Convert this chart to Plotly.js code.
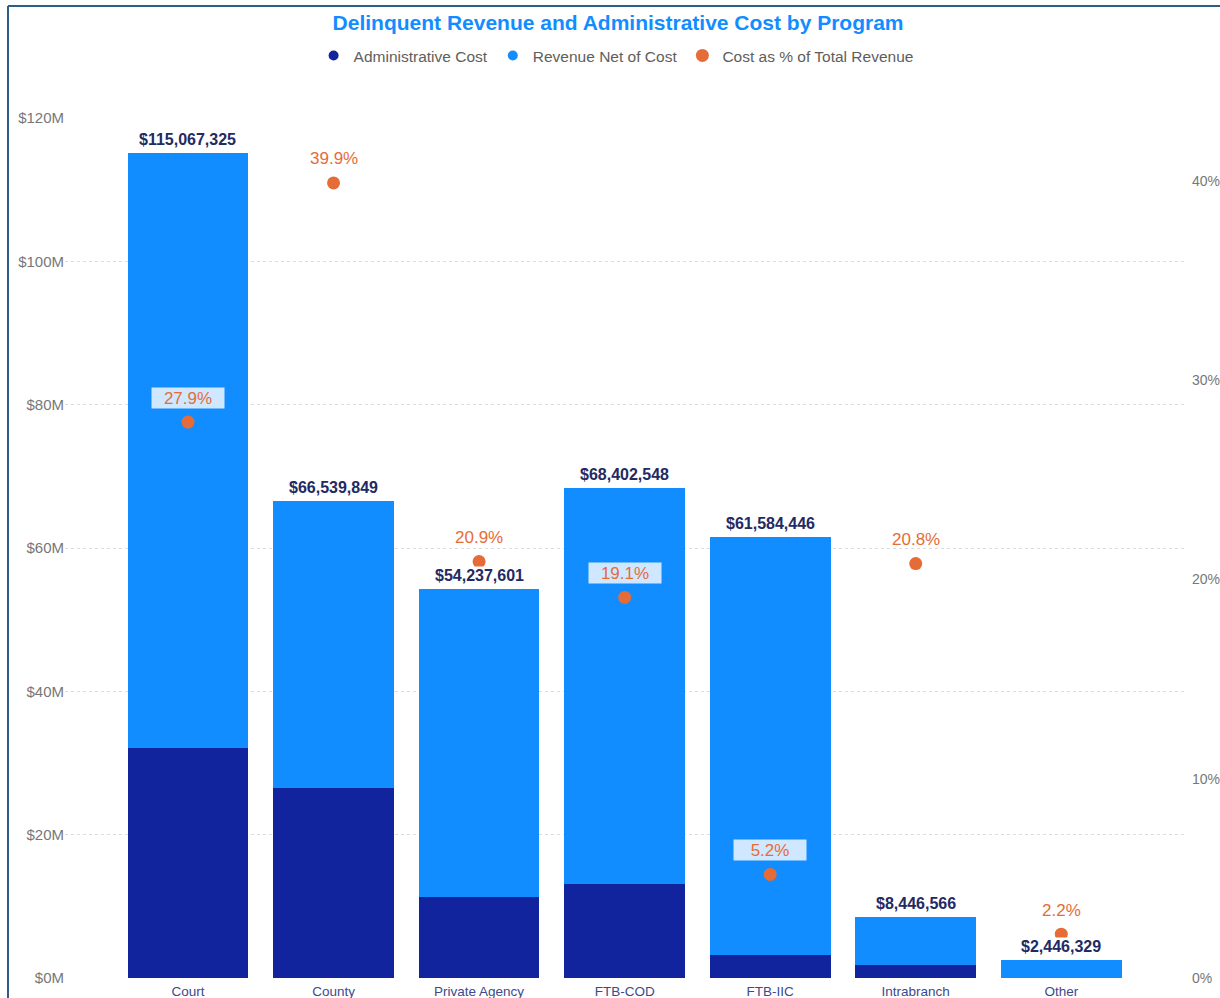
<!DOCTYPE html>
<html>
<head>
<meta charset="utf-8">
<script src="https://cdn.plot.ly/plotly-3.0.1.min.js"></script>
<style>html,body{margin:0;padding:0;background:#fff;}#chart{width:1220px;height:998px;}</style>
</head>
<body>
<div id="chart"></div>
<script>
const programs = ["Court", "County", "Private Agency", "FTB-COD", "FTB-IIC", "Intrabranch", "Other"];
const adminCost = [32100000, 26550000, 11336000, 13065000, 3202000, 1757000, 54000];
const revenueNet = [82967325, 39989849, 42901601, 55337548, 58382446, 6689566, 2392329];
const totalRevenue = [115067325, 66539849, 54237601, 68402548, 61584446, 8446566, 2446329];
const costPct = [27.9, 39.9, 20.9, 19.1, 5.2, 20.8, 2.2];
const leftTickVals = [0, 20000000, 40000000, 60000000, 80000000, 100000000, 120000000];
const leftTickText = ["$0M", "$20M", "$40M", "$60M", "$80M", "$100M", "$120M"];
const rightTickVals = [0, 10, 20, 30, 40];
const rightTickText = ["0%", "10%", "20%", "30%", "40%"];

const DARK = "#12239E", LIGHT = "#118DFF", ORANGE = "#E66C37";
const Y1MAX = 120000000, Y2MAX = 43.16;
const FONT = "Liberation Sans, Arial, sans-serif";

const traces = [
  {type: "bar", name: "Administrative Cost", x: programs, y: adminCost,
   marker: {color: DARK}, showlegend: false, hoverinfo: "x+y"},
  {type: "bar", name: "Revenue Net of Cost", x: programs, y: revenueNet,
   marker: {color: LIGHT}, showlegend: false, hoverinfo: "x+y"},
  {type: "scatter", mode: "markers", name: "Administrative Cost", x: [null], y: [null],
   marker: {color: DARK, size: 10, symbol: "circle"}, showlegend: true},
  {type: "scatter", mode: "markers", name: "Revenue Net of Cost", x: [null], y: [null],
   marker: {color: LIGHT, size: 10, symbol: "circle"}, showlegend: true},
  {type: "scatter", mode: "markers", name: "Cost as % of Total Revenue", x: programs, y: costPct,
   yaxis: "y2", marker: {color: ORANGE, size: 13}, showlegend: true}
];

const fmt = v => "$" + v.toLocaleString("en-US");
const annotations = [];
programs.forEach((p, i) => {
  const onBar = (costPct[i] / Y2MAX) * Y1MAX < totalRevenue[i];
  annotations.push({
    x: p, y: costPct[i], xref: "x", yref: "y2", yanchor: "middle", yshift: 24,
    text: costPct[i].toFixed(1) + "%", showarrow: false,
    font: {family: FONT, size: 17, color: ORANGE},
    bgcolor: onBar ? "rgba(255,255,255,0.8)" : "rgba(0,0,0,0)",
    width: onBar ? 72 : null, height: onBar ? 20 : null, borderpad: 0
  });
});
programs.forEach((p, i) => {
  annotations.push({
    x: p, y: totalRevenue[i], xref: "x", yref: "y", yanchor: "bottom", yshift: 4,
    text: "<b>" + fmt(totalRevenue[i]) + "</b>", showarrow: false,
    font: {family: FONT, size: 16, color: "#232a63"},
    bgcolor: "#ffffff", borderpad: 0
  });
});

const layout = {
  width: 1220, height: 998,
  margin: {l: 65, r: 35, t: 118, b: 20},
  paper_bgcolor: "#ffffff", plot_bgcolor: "#ffffff",
  font: {family: FONT},
  barmode: "stack", bargap: 0.17,
  title: {text: "<b>Delinquent Revenue and Administrative Cost by Program</b>",
          font: {family: FONT, size: 21, color: "#118DFF"},
          x: 0.5066, xref: "container", xanchor: "center",
          y: 0.977, yref: "container", yanchor: "middle"},
  legend: {orientation: "h", xref: "container", yref: "container", x: 0.505, xanchor: "center",
           y: 0.944, yanchor: "middle", traceorder: "normal", itemwidth: 30,
           font: {family: FONT, size: 15.5, color: "#605E5C"}},
  xaxis: {type: "category", range: [-0.845, 6.85], showgrid: false, zeroline: false,
          showline: false, ticks: "", ticklabelstandoff: 3,
          tickfont: {family: FONT, size: 13.5, color: "#3c4a8c"}},
  yaxis: {range: [0, Y1MAX], tickvals: leftTickVals, ticktext: leftTickText,
          showgrid: true, gridcolor: "#dcdcdc", griddash: "dot", gridwidth: 1,
          zeroline: false, showline: false, ticks: "",
          tickfont: {family: FONT, size: 15, color: "#777777"}},
  yaxis2: {range: [0, Y2MAX], overlaying: "y", side: "right", tickvals: rightTickVals,
           ticktext: rightTickText, showgrid: false, zeroline: false, showline: false, ticks: "",
           ticklabelstandoff: 6,
           tickfont: {family: FONT, size: 14, color: "#777777"}},
  annotations: annotations,
  shapes: [
    {type: "line", xref: "paper", yref: "paper", x0: -0.0509, x1: -0.0509, y0: -0.03, y1: 1.1302,
     line: {color: "#2e5c8a", width: 2}},
    {type: "line", xref: "paper", yref: "paper", x0: -0.0509, x1: 1.04, y0: 1.1302, y1: 1.1302,
     line: {color: "#2e5c8a", width: 2}}
  ],
  showlegend: true
};

Plotly.newPlot("chart", traces, layout, {displayModeBar: false, staticPlot: true});
</script>
</body>
</html>
